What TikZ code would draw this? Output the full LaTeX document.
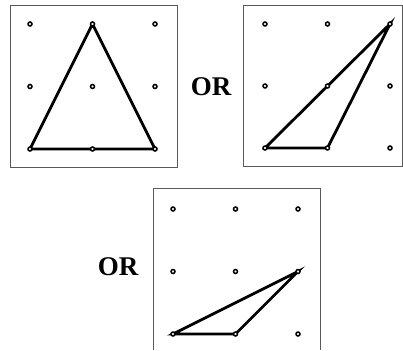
\documentclass[tikz,border=0pt]{standalone}
\usepackage{fontspec}
\setmainfont{Liberation Serif}
\usepackage{tikz}
\usetikzlibrary{positioning, backgrounds}
\tikzstyle{board} = [draw=black!65, line width=0.9pt]
\tikzstyle{peg} = [circle, draw=black, fill=white, line width=1.5pt, inner sep=0pt, minimum size=4pt]
\tikzstyle{band} = [draw=black, line width=2.8pt, line join=miter]
\tikzstyle{word} = [font=\fontsize{27}{30}\selectfont\bfseries, inner sep=0pt]

\begin{document}
\begin{tikzpicture}[x=1pt, y=-1pt]
        \useasboundingbox (0,0) rectangle (403,350);

        % --- first board ---
        \foreach \i in {0,1,2}
            \foreach \j in {0,1,2}
                \node [peg] (a\i\j) at ({30+62.5*\i},{24+62.5*\j}) {};

        % --- second board ---
        \foreach \i in {0,1,2}
            \foreach \j in {0,1,2}
                \node [peg] (b\i\j) at ({265+62.5*\i},{24+62*\j}) {};

        % --- third board ---
        \foreach \i in {0,1,2}
            \foreach \j in {0,1,2}
                \node [peg] (c\i\j) at ({173+62.5*\i},{209+62.5*\j}) {};

        % Labels between boards
        \node [word] (or1) at (211,87) {OR};
        \node [word] (or2) at (118,267) {OR};

        % Draw boards and bands
        \begin{scope}[on background layer]
            \draw [board] (10,5) rectangle (177,167);
            \draw [board] (243,5) rectangle (402,166);
            \draw [board] (153,350) -- (153,188) -- (320,188) -- (320,350);

            \draw [band] (a10.center) -- (a02.center) -- (a22.center) -- cycle;
            \draw [band] (b02.center) -- (b12.center) -- (b20.center) -- cycle;
            \draw [band] (c02.center) -- (c12.center) -- (c21.center) -- cycle;
        \end{scope}
    \end{tikzpicture}
\end{document}
